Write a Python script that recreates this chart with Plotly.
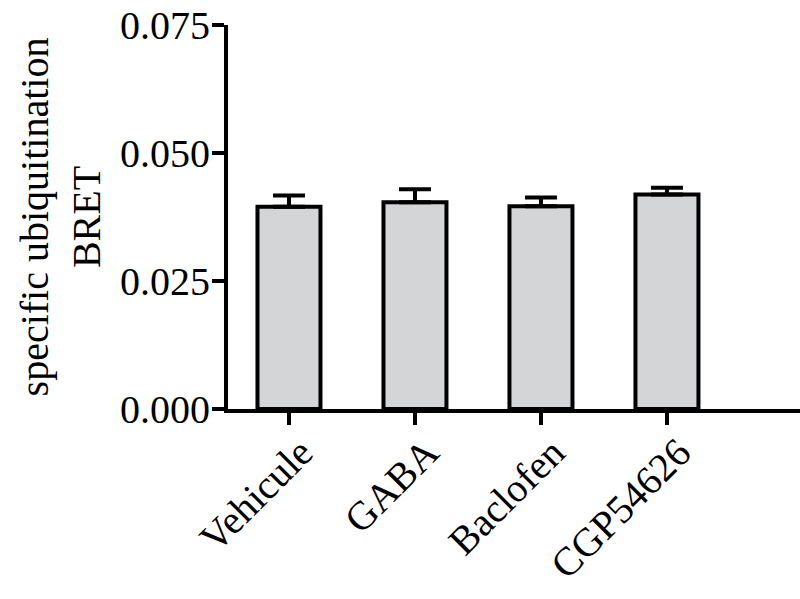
import plotly.graph_objects as go

# Treatment groups and specific ubiquitination BRET (mean and upper SEM)
treatments = ["Vehicule", "GABA", "Baclofen", "CGP54626"]
bret_mean = [0.0395, 0.0404, 0.0396, 0.0419]
bret_sem = [0.0022, 0.0025, 0.0017, 0.0013]

y_ticks = [0.0, 0.025, 0.05, 0.075]
y_tick_text = ["0.000", "0.025", "0.050", "0.075"]

serif = "Liberation Serif, Times New Roman, serif"
font_size = 40

fig = go.Figure(
    go.Bar(
        x=treatments,
        y=bret_mean,
        width=0.5,
        marker=dict(color="#d4d5d7", line=dict(color="black", width=4)),
        error_y=dict(
            type="data",
            array=bret_sem,
            arrayminus=[0] * len(bret_sem),
            symmetric=False,
            color="black",
            thickness=4,
            width=16,
        ),
    )
)

fig.update_layout(
    width=800,
    height=599,
    margin=dict(l=228, r=0, t=25, b=190),
    paper_bgcolor="white",
    plot_bgcolor="white",
    showlegend=False,
    font=dict(family=serif, size=font_size, color="black"),
)

fig.update_xaxes(
    range=[-0.484, 4.056],
    showline=True,
    linecolor="black",
    linewidth=4,
    ticks="outside",
    ticklen=12,
    tickwidth=4,
    tickcolor="black",
    tickangle=-45,
    ticklabelshift=12,
    ticklabelstandoff=-12,
    tickfont=dict(family=serif, size=font_size),
    showgrid=False,
    zeroline=False,
)

fig.update_yaxes(
    range=[0, 0.075],
    tickvals=y_ticks,
    ticktext=y_tick_text,
    showline=True,
    linecolor="black",
    linewidth=4,
    ticks="outside",
    ticklen=12,
    tickwidth=4,
    tickcolor="black",
    ticklabelstandoff=-6,
    tickfont=dict(family=serif, size=font_size),
    showgrid=False,
    zeroline=False,
    title=dict(
        text="specific ubiquitination<br>BRET",
        font=dict(family=serif, size=font_size),
        standoff=8,
    ),
)

fig.write_html("out.html")
